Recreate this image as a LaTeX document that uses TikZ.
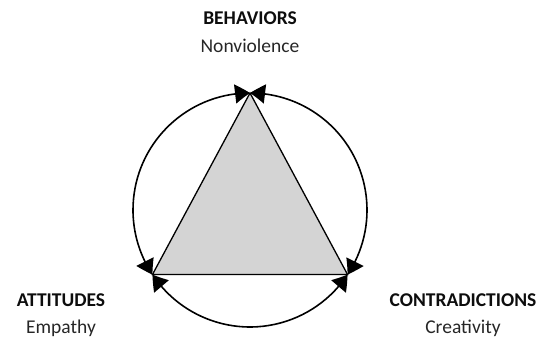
\documentclass[tikz,border=0pt]{standalone}
\usepackage{fontspec}
\setmainfont{Carlito}
\usetikzlibrary{arrows.meta,bending}
\definecolor{triGray}{gray}{0.83}
\begin{document}
\begin{tikzpicture}[x=1pt,y=1pt,
  ring/.style={line width=1.6pt, {Triangle[length=15pt,width=19pt,bend]}-{Triangle[length=15pt,width=19pt,bend]}},
  tri/.style={draw=black, line width=1.3pt, fill=triGray, line join=miter},
  head/.style={font=\fontsize{19.5}{22}\selectfont\bfseries, text=black!95, anchor=base, inner sep=0pt},
  sub/.style={font=\fontsize{19.5}{22}\selectfont, text=black!85, anchor=base, inner sep=0pt}]
\useasboundingbox (0,0) rectangle (543,339);
\coordinate (c) at (250,129);
\path (c) ++(90:117) coordinate (top);
\path (c) ++(213.5:117) coordinate (bl);
\path (c) ++(326.5:117) coordinate (br);
\draw[tri] (top) -- (bl) -- (br) -- cycle;
\draw[ring] (top) arc[start angle=90, end angle=213.5, radius=117];
\draw[ring] (bl) arc[start angle=213.5, end angle=326.5, radius=117];
\draw[ring] (br) arc[start angle=326.5, end angle=450, radius=117];
\node[head] (beh) at (250,314) {BEHAVIORS};
\node[sub] (behs) at (250,286) {Nonviolence};
\node[head] (att) at (61,32) {ATTITUDES};
\node[sub] (atts) at (61,5) {Empathy};
\node[head] (con) at (463,32) {CONTRADICTIONS};
\node[sub] (cons) at (463,5) {Creativity};
\end{tikzpicture}
\end{document}
